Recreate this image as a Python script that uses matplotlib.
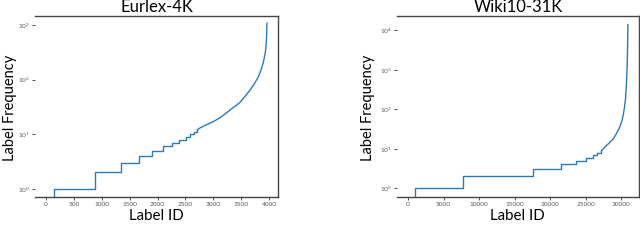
import matplotlib
matplotlib.use("Agg")
import matplotlib.pyplot as plt
from matplotlib.ticker import LogLocator, NullLocator

plt.rcParams['font.family'] = ['Lato', 'DejaVu Sans']
plt.rcParams['mathtext.fontset'] = 'dejavusans'

# Eurlex-4K: flat steps at the low end, then a smooth tail
eurlex_step_ids = [0, 147, 878, 1345, 1669, 1903, 2090, 2252, 2388, 2504, 2581, 2653, 2712]
eurlex_step_freqs = [0, 1, 2, 3, 4, 5, 6, 7, 8, 9, 10, 11, 12]
eurlex_tail_ids = [2712, 2760, 2850, 3000, 3100, 3200, 3300, 3400, 3480, 3560, 3660,
                   3740, 3809, 3860, 3899, 3930, 3948, 3955, 3962]
eurlex_tail_freqs = [12, 13, 14.5, 17, 19.5, 23, 27.8, 33, 38.5, 48, 64.6,
                     85, 113, 155, 212, 300, 430, 600, 1070]

# Wiki10-31K
wiki_step_ids = [0, 1005, 7709, 17570, 21540, 23630, 25030, 26050, 26650, 27200]
wiki_step_freqs = [0, 1, 2, 3, 4, 5, 6, 7, 8, 9]
wiki_tail_ids = [27200, 27500, 27900, 28280, 28800, 29220, 29600, 29910, 30100, 30280,
                 30450, 30610, 30750, 30840, 30890, 30938]
wiki_tail_freqs = [9, 10, 12, 13.8, 17, 22.4, 30, 40, 52, 72,
                   110, 190, 500, 1320, 3500, 14000]

titles = ["Eurlex-4K", "Wiki10-31K"]
ylims = [(0.71, 1456), (0.6, 23000)]
xticks = [[0, 500, 1000, 1500, 2000, 2500, 3000, 3500, 4000],
          [0, 5000, 10000, 15000, 20000, 25000, 30000]]

fig = plt.figure(figsize=(6.4, 2.47), dpi=100)
ax1 = fig.add_axes([0.0547, 0.2024, 0.3797, 0.7328])
ax2 = fig.add_axes([0.6203, 0.2024, 0.378, 0.7328])

data = [(eurlex_step_ids, eurlex_step_freqs, eurlex_tail_ids, eurlex_tail_freqs),
        (wiki_step_ids, wiki_step_freqs, wiki_tail_ids, wiki_tail_freqs)]
line_col = "#2b7bba"

for i, ax in enumerate([ax1, ax2]):
    s_ids, s_fr, t_ids, t_fr = data[i]
    # last step runs up to where the tail starts
    ax.plot(s_ids + [t_ids[0]], s_fr + [s_fr[-1]], drawstyle="steps-post", color=line_col, lw=1.0)
    ax.plot(t_ids, t_fr, color=line_col, lw=1.0)
    ax.set_yscale("log", nonpositive="clip")
    ax.set_ylim(*ylims[i])
    ax.set_xlim(-0.05 * t_ids[-1], 1.05 * t_ids[-1])
    ax.set_xticks(xticks[i])
    ax.yaxis.set_major_locator(LogLocator(base=10, numticks=10))
    ax.yaxis.set_minor_locator(NullLocator())
    ax.tick_params(axis="both", labelsize=4.6, length=2, width=0.6, color="#333333",
                   labelcolor="#555555", pad=1.5)
    for side in ["top", "bottom", "right"]:
        ax.spines[side].set_color("#444444")
        ax.spines[side].set_linewidth(1.0)
    ax.spines["left"].set_visible(False)
    ax.set_title(titles[i], fontsize=12, pad=3.0)
    ax.set_xlabel("Label ID", fontsize=10.8)
    ax.set_ylabel("Label Frequency", fontsize=10.5)

ax1.yaxis.set_label_coords(-0.075, 0.49)
ax2.yaxis.set_label_coords(-0.09, 0.49)
ax1.xaxis.set_label_coords(0.498, -0.065)
ax2.xaxis.set_label_coords(0.498, -0.065)

fig.savefig("out.png", dpi=100)
